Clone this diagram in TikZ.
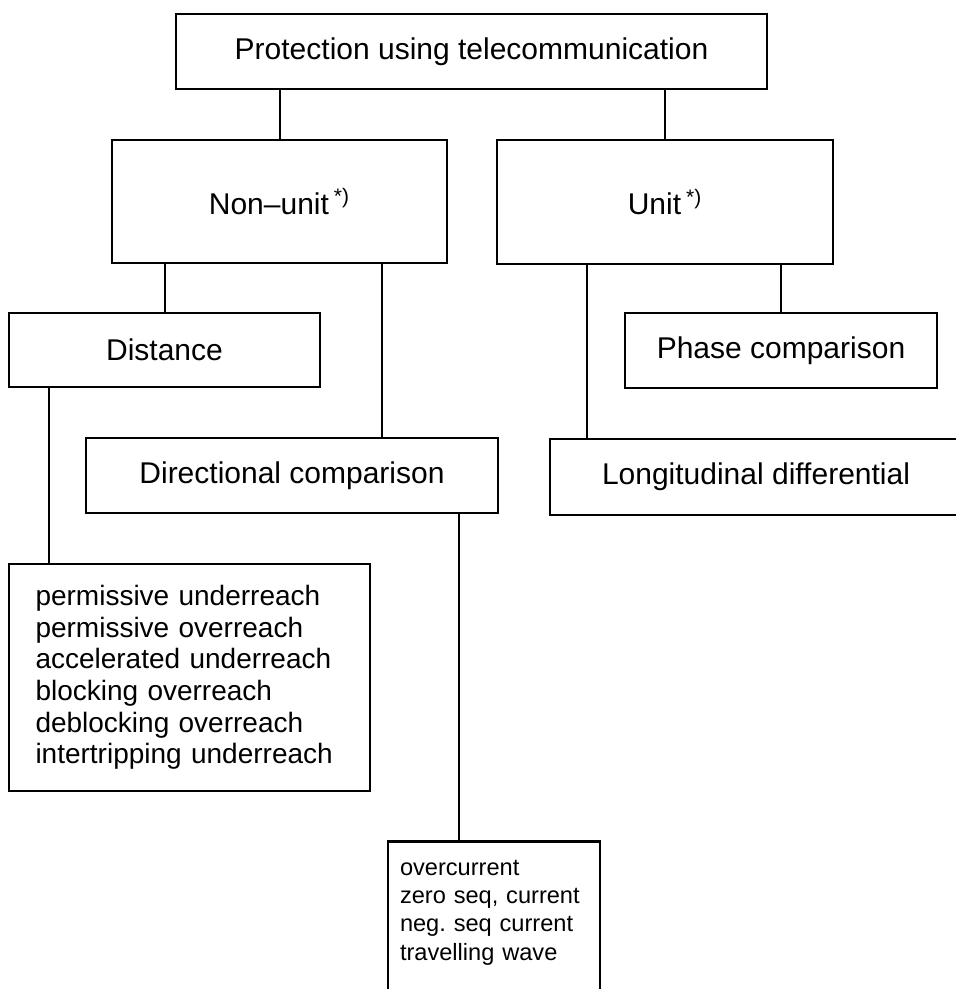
\documentclass[tikz,border=0pt]{standalone}
\usepackage{fontspec}
\setmainfont{Liberation Sans}
\usepackage{tikz}

\begin{document}
\begin{tikzpicture}[x=0.5pt, y=-0.5pt,
  box/.style={draw, line width=1.3pt, font=\fontsize{15}{18}\selectfont, inner sep=0pt},
  listbox/.style={draw, line width=1.3pt, align=left, inner ysep=0pt},
  link/.style={line width=1pt}]
\useasboundingbox (0,0) rectangle (955,989);

% headings
\node[box, minimum width=295.5pt, minimum height=37.5pt] (top) at (471.5,51.5) {Protection using telecommunication};
\node[box, minimum width=167.5pt, minimum height=61.5pt] (nonunit) at (279.5,201.5) {Non--unit\,\textsuperscript{*)}};
\node[box, minimum width=168pt, minimum height=62pt] (unit) at (665,202) {Unit\,\textsuperscript{*)}};
\node[box, minimum width=155.5pt, minimum height=37pt] (dist) at (164.5,350) {Distance};
\node[box, minimum width=156pt, minimum height=37.5pt] (phase) at (781,350.5) {Phase comparison};
\node[box, minimum width=206pt, minimum height=37.5pt] (dircomp) at (292,475.5) {Directional comparison};
\node[box, minimum width=206pt, minimum height=38pt] (longdiff) at (756,477) {Longitudinal differential};

% schemes
\node[listbox, font=\fontsize{14}{15.85}\selectfont, text width=154pt, inner xsep=13.25pt, minimum height=113.5pt] (perm) at (189.5,677.5)
  {permissive underreach\\permissive overreach\\accelerated underreach\\blocking overreach\\deblocking overreach\\intertripping underreach};
\node[listbox, anchor=north, font=\fontsize{11.8}{14.1}\selectfont, text width=94pt, inner xsep=6pt, inner ysep=9.5pt, text depth=75pt] (seq) at (494,840)
  {overcurrent\\zero seq, current\\neg.\ seq current\\travelling wave};

% drop points
\coordinate (xdc) at (382,0);
\coordinate (xld) at (587,0);
\coordinate (xpu) at (49,0);
\coordinate (xsq) at (459,0);

\draw[link] (nonunit.north) -- (nonunit.north |- top.south);
\draw[link] (unit.north) -- (unit.north |- top.south);
\draw[link] (dist.north) -- (dist.north |- nonunit.south);
\draw[link] (xdc |- nonunit.south) -- (xdc |- dircomp.north);
\draw[link] (phase.north) -- (phase.north |- unit.south);
\draw[link] (xld |- unit.south) -- (xld |- longdiff.north);
\draw[link] (xpu |- dist.south) -- (xpu |- perm.north);
\draw[link] (xsq |- dircomp.south) -- (xsq |- seq.north);
\end{tikzpicture}
\end{document}
